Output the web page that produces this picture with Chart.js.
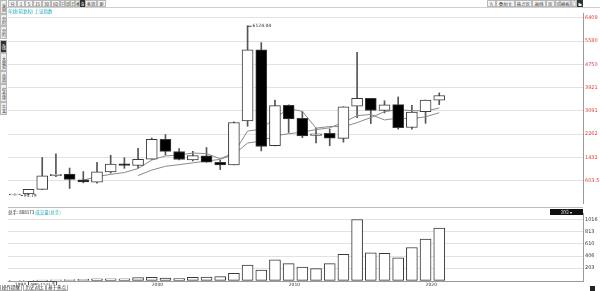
<!DOCTYPE html>
<html><head><meta charset="utf-8">
<script src="https://cdn.jsdelivr.net/npm/chart.js@4/dist/chart.umd.min.js"></script>
<style>
html,body{margin:0;padding:0;background:#fff;width:600px;height:291px;overflow:hidden;font-family:"Noto Sans CJK SC","Noto Sans",sans-serif;}
.a{position:absolute;white-space:nowrap;line-height:1;}
.tb{position:absolute;top:0;height:7px;border:1px solid #b8b8b8;background:#f4f4f4;font-size:4.5px;line-height:6px;text-align:center;color:#333;box-sizing:border-box;overflow:hidden;}
.tb.sel{background:#333;color:#fff;border-color:#333;}
.sb{position:absolute;left:0;width:7px;border:1px solid #b8b8b8;background:#eee;font-size:4px;line-height:5px;text-align:center;color:#333;box-sizing:border-box;writing-mode:vertical-rl;padding-top:1px;overflow:hidden;}
.sb.sel{background:#333;color:#fff;}
.bt{position:absolute;top:285px;height:6px;border:1px solid #aaa;border-top:none;font-size:4.5px;line-height:5px;text-align:center;color:#222;box-sizing:border-box;background:#fff;}
</style></head><body>
<div class="a" style="left:8px;top:8px;width:592px;height:200px"><canvas id="main"></canvas></div>
<div class="a" style="left:8px;top:208px;width:592px;height:83px"><canvas id="vol"></canvas></div>

<div class="a" style="left:0;top:7px;width:600px;height:1px;background:#cfcfcf"></div>
<div class="tb" style="left:8px;width:9px">分时图</div>
<div class="tb" style="left:17px;width:8px">1分</div>
<div class="tb" style="left:25px;width:8px">5分</div>
<div class="tb" style="left:33px;width:9px">15分</div>
<div class="tb" style="left:42px;width:9px">30分</div>
<div class="tb" style="left:51px;width:9px">60分</div>
<div class="tb" style="left:60px;width:5px">日</div>
<div class="tb" style="left:65px;width:5px">周</div>
<div class="tb" style="left:70px;width:5px">月</div>
<div class="tb" style="left:75px;width:5px">季</div>
<div class="tb sel" style="left:80px;width:5px">年</div>
<div class="tb" style="left:85px;width:12px">多周期</div>
<div class="tb" style="left:97px;width:9px">更多</div>
<div class="tb" style="left:487px;width:9px">九转</div>
<div class="tb" style="left:496px;width:19px">叠加大事件</div>
<div class="tb" style="left:515px;width:17px">热点区间</div>
<div class="tb" style="left:532px;width:14px">画线工具</div>
<div class="tb" style="left:546px;width:9px">区间</div>
<div class="tb" style="left:555px;width:5px">设</div>
<div class="tb" style="left:560px;width:11px">模板</div>
<div class="tb" style="left:571px;width:6px">◎</div>
<div class="tb sel" style="left:577px;width:6px">▶</div>

<div class="sb" style="top:0;height:14px">返回</div>
<div class="sb" style="top:14px;height:12px">分时</div>
<div class="sb" style="top:26px;height:13px">分时图</div>
<div class="sb sel" style="top:40px;height:13px">K线图</div>
<div class="sb" style="top:53px;height:18px">大盘资料</div>
<div class="sb" style="top:71px;height:13px">自选股</div>
<div class="sb" style="top:84px;height:18px">综合排名</div>
<div class="sb" style="top:102px;height:13px">牛叉</div>

<div class="a" style="left:8px;top:9px;font-size:4.5px;color:#1aa7b8">年线(前复权) 上证指数</div>

<div class="a" style="left:8px;top:207px;width:575px;height:1px;background:#bdbdbd"></div>
<div class="a" style="left:8px;top:210px;font-size:4.5px;color:#222">总手: 808173 <span style="color:#1aa7b8">成交量(总手)</span></div>
<div class="a" style="left:550px;top:209px;width:33px;height:6px;background:#111;color:#fff;font-size:4px;line-height:6px;text-align:center">定位 ▾</div>
<div class="a" style="left:28px;top:281px;height:4px;border:1px solid #555;background:#fff;font-size:4px;line-height:4px;padding:0 1px">1991-12-31 五</div>

<div class="bt" style="left:0;width:22px">操作提醒</div>
<div class="bt" style="left:23px;width:23px">历史对比</div>
<div class="bt" style="left:46px;width:22px">基于热点</div>
<div class="a" style="left:590px;top:286px;width:5px;height:5px;background:#222"></div>

<script>
const years = ['1990','1991','1992','1993','1994','1995','1996','1997','1998','1999','2000','2001','2002','2003','2004','2005','2006','2007','2008','2009','2010','2011','2012','2013','2014','2015','2016','2017','2018','2019','2020','2021'];
const emptySlots = 10;
const opens  = [96.05,127.61,293.74,784.13,837.70,637.72,550.26,914.06,1200.95,1144.89,1368.69,2077.07,1643.48,1347.43,1492.72,1260.78,1163.88,2728.19,5265.00,1849.02,3289.75,2825.33,2212.00,2289.51,2112.13,3258.63,3536.59,3105.31,3314.03,2497.88,3066.34,3474.68];
const highs  = [127.61,292.75,1429.01,1558.95,1052.94,926.41,1258.69,1510.18,1422.98,1756.18,2125.72,2245.44,1748.89,1649.60,1783.01,1328.53,2698.90,6124.04,5522.78,3478.01,3306.75,3067.46,2478.38,2444.80,3239.36,5178.19,3538.69,3450.49,3587.03,3288.45,3474.92,3731.69];
const lows   = [95.79,104.96,292.76,750.46,325.89,524.43,512.83,870.18,1043.02,1047.83,1361.21,1514.86,1339.20,1307.40,1259.43,998.23,1161.91,2541.52,1664.93,1844.09,2319.74,2134.02,1949.46,1849.65,1974.38,2850.71,2638.30,3016.53,2440.91,2440.91,2646.80,3312.72];
const closes = [127.61,292.75,780.39,833.80,647.87,555.29,917.02,1194.10,1146.70,1366.58,2073.48,1645.97,1357.65,1497.04,1266.50,1161.06,2675.47,5261.56,1820.81,3277.14,2808.08,2199.42,2269.13,2115.98,3234.68,3539.18,3103.64,3307.17,2493.90,3050.12,3473.07,3639.78];
const ma5  = [null,null,null,null,null,622.0,746.9,829.6,892.2,1035.9,1339.6,1485.4,1518.1,1588.1,1568.1,1385.6,1591.5,2372.3,2437.1,2839.2,3168.6,3073.4,2474.9,2534.0,2525.5,2671.7,2852.5,3060.1,3135.7,3098.8,3085.6,3192.8];
const ma10 = [null,null,null,null,null,null,null,null,null,786.2,980.8,1116.1,1173.8,1240.2,1302.0,1362.6,1538.5,1945.2,2012.6,2203.7,2277.1,2332.5,2423.6,2485.5,2682.3,2920.1,2963.0,2767.5,2834.8,2812.1,2878.6,3022.7];
const volumes = [0.5,1,3,8,14,15,24,25,24,47,51,36,31,51,56,62,118,254,171,342,280,222,196,280,436,1016,461,451,378,549,689,871];
const priceTicks = [6409,5580,4750,3921,3091,2262,1432,603.5];
const volTicks = [1016,813,610,406,203];

const labels = years.concat(Array(emptySlots).fill(''));
const RED = '#e8383d';
const fontSmall = {size:5, family:'"DejaVu Sans", sans-serif'};

const extremes = {
  id:'extremes',
  afterDatasetsDraw(chart){
    const {ctx, scales:{x,y}} = chart;
    ctx.save();
    ctx.font = '4.5px "DejaVu Sans", sans-serif';
    ctx.fillStyle = '#222'; ctx.strokeStyle = '#444'; ctx.lineWidth = 1;
    ctx.textBaseline = 'middle';
    let hi = highs.indexOf(Math.max(...highs));
    let lo = lows.indexOf(Math.min(...lows));
    let px = x.getPixelForValue(hi), py = y.getPixelForValue(highs[hi]);
    ctx.beginPath(); ctx.moveTo(px, py+0.5); ctx.lineTo(px+4, py+0.5); ctx.stroke();
    ctx.fillText(highs[hi].toFixed(2), px+5, py+0.5);
    px = x.getPixelForValue(lo); py = y.getPixelForValue(lows[lo]);
    ctx.beginPath(); ctx.moveTo(px+6, py+0.5); ctx.lineTo(px+8, py+0.5); ctx.stroke();
    ctx.fillText(lows[lo].toFixed(2), px+9, py+0.5);
    ctx.restore();
  }
};

new Chart(document.getElementById('main'), {
  data:{
    labels,
    datasets:[
      {type:'bar', data:years.map((_,i)=>[opens[i],closes[i]]), barThickness:11, grouped:false, order:0,
        backgroundColor:years.map((_,i)=>closes[i]>=opens[i]?'#ffffff':'#000000'),
        borderColor:'#3a3a3a', borderWidth:1, borderSkipped:false},
      {type:'line', data:ma5, borderColor:'#8a8a8a', borderWidth:1, pointRadius:0, order:1},
      {type:'line', data:ma10, borderColor:'#8a8a8a', borderWidth:1, pointRadius:0, order:1},
      {type:'bar', data:years.map((_,i)=>[lows[i],highs[i]]), barThickness:1, grouped:false, order:2,
        backgroundColor:'#555', borderWidth:0}
    ]
  },
  options:{
    responsive:true, maintainAspectRatio:false, animation:false, devicePixelRatio:1,
    layout:{padding:0},
    plugins:{legend:{display:false}, tooltip:{enabled:false}},
    scales:{
      x:{display:false, offset:true, grid:{display:false}},
      y:{position:'right', min:-192, max:6578,
        afterBuildTicks(s){ s.ticks = priceTicks.map(v=>({value:v})); },
        afterFit(s){ s.width = 17; },
        grid:{color:'#e2e2e2', drawTicks:false},
        border:{display:true, color:'#9a9a9a'},
        ticks:{color:RED, font:fontSmall, padding:2, callback:v=>String(v)}
      }
    }
  },
  plugins:[extremes]
});

new Chart(document.getElementById('vol'), {
  type:'bar',
  data:{labels, datasets:[{data:volumes, barThickness:11, backgroundColor:'#fff', borderColor:'#3a3a3a', borderWidth:1, borderSkipped:false}]},
  options:{
    responsive:true, maintainAspectRatio:false, animation:false, devicePixelRatio:1,
    layout:{padding:0},
    plugins:{legend:{display:false}, tooltip:{enabled:false}},
    scales:{
      x:{offset:true, grid:{display:false, drawTicks:false}, border:{display:true,color:'#9a9a9a'},
        afterFit(s){ s.height = 10; },
        ticks:{autoSkip:false, maxRotation:0, minRotation:0, padding:1, align:'start', color:'#333', font:{size:4.5, family:'"DejaVu Sans", sans-serif'},
          callback(v,i){ const l = labels[i]; return (l && Number(l)%10===0) ? l : ''; }}
      },
      y:{position:'right', min:-11, max:1125,
        afterBuildTicks(s){ s.ticks = volTicks.map(v=>({value:v})); },
        afterFit(s){ s.width = 17; },
        grid:{color:'#e2e2e2', drawTicks:false},
        border:{display:true, color:'#9a9a9a'},
        ticks:{color:'#333', font:fontSmall, padding:2, callback:v=>String(v)}
      }
    }
  }
});
</script>
</body></html>
